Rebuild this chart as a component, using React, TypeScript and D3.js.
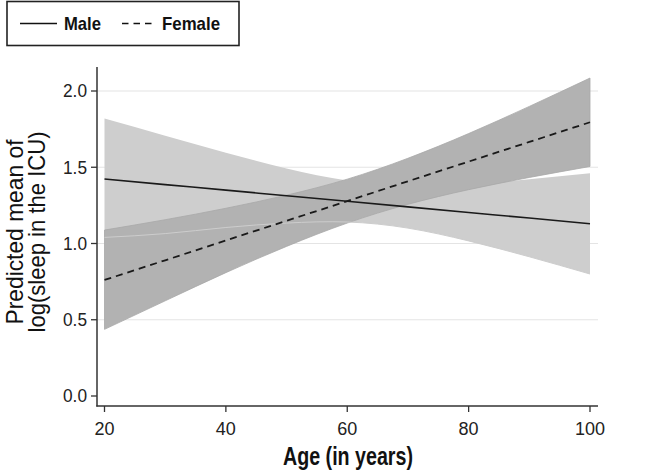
import React from "react";
import * as d3 from "d3";

const ages = [20, 30, 40, 50, 60, 70, 80, 90, 100];
const maleMean = [1.423, 1.386, 1.35, 1.313, 1.277, 1.24, 1.203, 1.167, 1.13];
const maleUpper = [1.82, 1.707, 1.595, 1.492, 1.413, 1.379, 1.389, 1.421, 1.46];
const maleLower = [1.04, 1.065, 1.105, 1.134, 1.141, 1.101, 1.017, 0.913, 0.8];
const femaleMean = [0.761, 0.89, 1.02, 1.149, 1.278, 1.408, 1.537, 1.666, 1.795];
const femaleUpper = [1.088, 1.156, 1.231, 1.317, 1.422, 1.559, 1.721, 1.899, 2.085];
const femaleLower = [0.437, 0.624, 0.809, 0.981, 1.134, 1.257, 1.353, 1.433, 1.505];

const xTicks = [20, 40, 60, 80, 100];
const yTicks = [0, 0.5, 1, 1.5, 2];
const yTickLabels = ["0.0", "0.5", "1.0", "1.5", "2.0"];
const gridValues = [0.5, 1, 1.5, 2];
const legendLabels = ["Male", "Female"];

const W = 645;
const H = 474;

export default function App() {
  const x = d3.scaleLinear().domain([20, 100]).range([104.5, 590]);
  const y = d3.scaleLinear().domain([0, 2]).range([396, 91]);

  const idx = ages.map((_, i) => i);
  const area = (lo: number[], hi: number[]) =>
    d3
      .area<number>()
      .x((i) => x(ages[i]))
      .y0((i) => y(lo[i]))
      .y1((i) => y(hi[i]))
      .curve(d3.curveNatural)(idx) as string;
  const line = (vals: number[]) =>
    d3
      .line<number>()
      .x((i) => x(ages[i]))
      .y((i) => y(vals[i]))
      .curve(d3.curveNatural)(idx) as string;

  const axisColor = "#333";
  const font = "'Liberation Sans', Arial, sans-serif";

  return (
    <svg
      width={W}
      height={H}
      viewBox={`0 0 ${W} ${H}`}
      style={{ position: "absolute", left: 0, top: 0, background: "#fff" }}
    >
      <rect x={0} y={0} width={W} height={H} fill="#fff" />
      {/* grid */}
      {gridValues.map((v) => (
        <line key={v} x1={97} x2={598} y1={y(v)} y2={y(v)} stroke="#e4e4e4" strokeWidth={1.2} />
      ))}
      {/* bands */}
      <path d={area(maleLower, maleUpper)} fill="#cecece" />
      <path d={area(femaleLower, femaleUpper)} fill="#b2b2b2" stroke="#a8a8a8" strokeWidth={0.8} />
      <path d={line(maleLower)} fill="none" stroke="#cdcdcd" strokeWidth={1} />
      {/* lines */}
      <path d={line(maleMean)} fill="none" stroke="#1a1a1a" strokeWidth={1.6} />
      <path d={line(femaleMean)} fill="none" stroke="#1a1a1a" strokeWidth={1.8} strokeDasharray="7,5" />
      {/* axes */}
      <line x1={97} x2={97} y1={67} y2={406.5} stroke={axisColor} strokeWidth={1.5} />
      <line x1={96.3} x2={598} y1={406} y2={406} stroke={axisColor} strokeWidth={1.5} />
      {yTicks.map((v, i) => (
        <g key={v}>
          <line x1={91} x2={97} y1={y(v)} y2={y(v)} stroke={axisColor} strokeWidth={1.3} />
          <text
            x={87}
            y={y(v)}
            dy="0.36em"
            textAnchor="end"
            fontFamily={font}
            fontSize={18}
            fill="#222"
            textLength={24}
            lengthAdjust="spacingAndGlyphs"
          >
            {yTickLabels[i]}
          </text>
        </g>
      ))}
      {xTicks.map((v) => (
        <g key={v}>
          <line x1={x(v)} x2={x(v)} y1={406} y2={412} stroke={axisColor} strokeWidth={1.3} />
          <text x={x(v)} y={434.5} textAnchor="middle" fontFamily={font} fontSize={18} fill="#222">
            {v}
          </text>
        </g>
      ))}
      {/* axis titles */}
      <text
        x={348}
        y={465}
        textAnchor="middle"
        fontFamily={font}
        fontWeight="bold"
        fontSize={25}
        fill="#111"
        textLength={130}
        lengthAdjust="spacingAndGlyphs"
      >
        Age (in years)
      </text>
      <g transform="translate(0,232) rotate(-90)">
        <text
          x={0}
          y={22.5}
          textAnchor="middle"
          fontFamily={font}
          fontSize={24.5}
          fill="#111"
          textLength={185}
          lengthAdjust="spacingAndGlyphs"
        >
          Predicted mean of
        </text>
        <text
          x={0}
          y={44.5}
          textAnchor="middle"
          fontFamily={font}
          fontSize={24.5}
          fill="#111"
          textLength={201}
          lengthAdjust="spacingAndGlyphs"
        >
          log(sleep in the ICU)
        </text>
      </g>
      {/* legend */}
      <rect x={7} y={1.5} width={232} height={44} fill="#fff" stroke="#222" strokeWidth={1.6} />
      <line x1={20} x2={57} y1={23.5} y2={23.5} stroke="#111" strokeWidth={1.6} />
      <text
        x={64}
        y={29.5}
        fontFamily={font}
        fontWeight="bold"
        fontSize={19}
        fill="#111"
        textLength={37}
        lengthAdjust="spacingAndGlyphs"
      >
        {legendLabels[0]}
      </text>
      <line x1={122} x2={153} y1={23.5} y2={23.5} stroke="#111" strokeWidth={1.6} strokeDasharray="6.5,5" />
      <text
        x={162}
        y={29.5}
        fontFamily={font}
        fontWeight="bold"
        fontSize={19}
        fill="#111"
        textLength={58}
        lengthAdjust="spacingAndGlyphs"
      >
        {legendLabels[1]}
      </text>
    </svg>
  );
}
